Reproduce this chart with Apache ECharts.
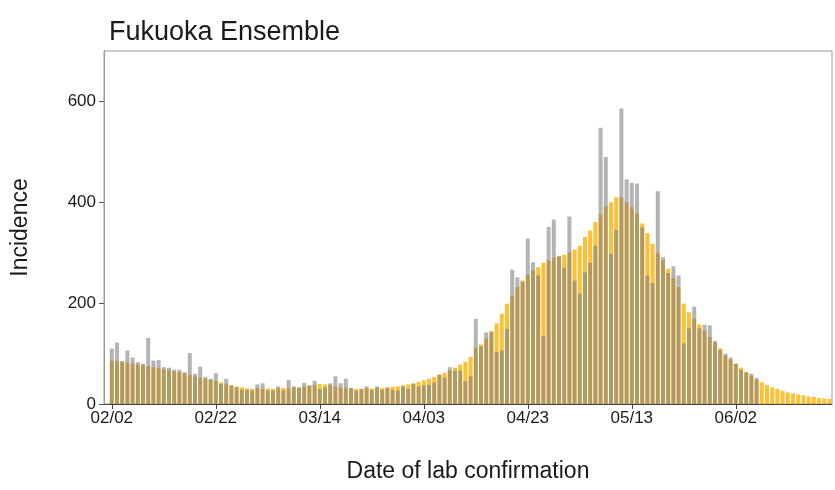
<!DOCTYPE html>
<html><head><meta charset="utf-8">
<script src="https://cdn.jsdelivr.net/npm/echarts@6/dist/echarts.min.js"></script>
<style>html,body{margin:0;padding:0;background:#fff}#c{width:835px;height:490px}</style>
</head><body><div id="c"></div>
<script>
// Categories: daily dates 2021-02-01 .. 2021-06-20
var monthDays = [['02',28],['03',31],['04',30],['05',31],['06',20]];
var categories = [];
monthDays.forEach(function(m){ for (var d=1; d<=m[1]; d++) categories.push(m[0] + '/' + (d<10?'0'+d:''+d)); });

// Observed incidence (grey bars), by month
var obsFeb = [null,110,122,85,106,92,83,80,131,86,87,73,72,68,68,63,101,60,74,54,50,61,40,50,37,33,28,28];
var obsMar = [27,39,41,27,27,35,27,48,35,33,42,37,46,30,33,41,55,41,50,32,27,30,35,28,35,28,32,28,27,35,30];
var obsApr = [40,35,37,38,43,58,52,73,66,66,45,55,169,114,142,142,103,106,149,266,251,242,328,281,255,135,351,366,292,270];
var obsMay = [372,245,219,261,280,314,548,490,298,345,586,445,438,437,350,255,240,422,291,260,273,255,120,150,193,150,157,156,125,108,100];
var obsJun = [92,80,68,62,60,52,null,null,null,null,null,null,null,null,null,null,null,null,null,null];

// Ensemble estimate (orange bars), by month
var ensFeb = [null,86,85,84,82,80,78,77,75,73,71,69,67,65,63,61,58,55,52,50,48,46,43,40,37,35,33,31];
var ensMar = [30,32,30,31,30,31,32,31,33,32,34,36,38,40,39,37,35,33,32,31,30,30,31,31,32,32,33,34,35,37,39];
var ensApr = [41,44,47,50,54,58,62,67,72,78,84,93,112,118,130,145,160,179,199,215,232,245,256,265,271,280,285,290,294,296];
var ensMay = [300,306,314,331,344,361,376,392,400,410,410,400,390,378,358,339,318,300,285,268,250,232,199,182,170,158,145,133,122,110,96];
var ensJun = [88,80,72,64,56,48,43,38,33,30,26,23,21,19,17,15,14,12,11,10];

var yTicks = [0,200,400,600];

var observed = [].concat(obsFeb, obsMar, obsApr, obsMay, obsJun);
var ensemble = [].concat(ensFeb, ensMar, ensApr, ensMay, ensJun);

var every20 = function(i){ return i >= 1 && (i - 1) % 20 === 0; };
var font = 'Liberation Sans, Arial, sans-serif';

var chart = echarts.init(document.getElementById('c'), null, {renderer:'canvas'});
chart.setOption({
  animation: false,
  title: { text: 'Fukuoka Ensemble', left: 104, top: 14,
    textStyle: { fontFamily: font, fontSize: 27, fontWeight: 'normal', color: '#1a1a1a' } },
  grid: { left: 104, right: 3, top: 51, bottom: 86, show: true, borderColor: '#9a9a9a', borderWidth: 1, containLabel: false },
  xAxis: {
    type: 'category', data: categories, boundaryGap: true,
    name: 'Date of lab confirmation', nameLocation: 'middle', nameGap: 56,
    nameTextStyle: { fontFamily: font, fontSize: 23, color: '#1a1a1a' },
    axisLine: { show: true, lineStyle: { color: '#444', width: 1 } },
    axisTick: { show: true, alignWithLabel: true, interval: every20, length: 5, lineStyle: { color: '#444' } },
    axisLabel: { interval: every20, fontFamily: font, fontSize: 17, color: '#1a1a1a', margin: 6 },
    splitLine: { show: false }
  },
  yAxis: {
    type: 'value', min: 0, max: 700, interval: 200,
    name: 'Incidence', nameLocation: 'middle', nameGap: 72, nameRotate: 90,
    nameTextStyle: { fontFamily: font, fontSize: 23, color: '#1a1a1a' },
    axisLine: { show: true, lineStyle: { color: '#9a9a9a' } },
    axisTick: { show: true, length: 5, customValues: yTicks, lineStyle: { color: '#555' } },
    axisLabel: { customValues: yTicks, fontFamily: font, fontSize: 17, color: '#1a1a1a', margin: 8 },
    splitLine: { show: false }
  },
  series: [
    { name: 'Ensemble', type: 'bar', data: ensemble, barWidth: 4, barGap: '-100%',
      itemStyle: { color: 'rgba(255,178,0,0.8)' } },
    { name: 'Observed', type: 'bar', data: observed, barWidth: 4, barGap: '-100%',
      itemStyle: { color: 'rgba(125,125,125,0.58)' } }
  ]
});
</script></body></html>
